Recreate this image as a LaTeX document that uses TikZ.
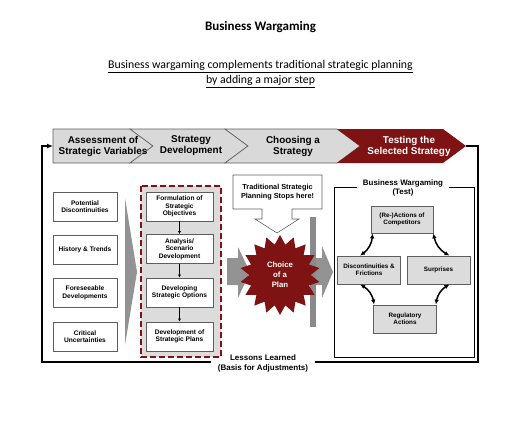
\documentclass[tikz,border=0pt]{standalone}
\usepackage{fontspec}
\setmainfont{Carlito}
\newfontfamily\arialfont{Liberation Sans}
\usetikzlibrary{arrows.meta,shapes.geometric}

\definecolor{chevgray}{HTML}{D9D9D9}
\definecolor{wgred}{HTML}{7F1313}
\definecolor{edgegray}{HTML}{5E5E5E}
\definecolor{boxgray}{HTML}{DCDCDC}
\definecolor{arrowgray}{HTML}{939393}
\definecolor{bargray}{HTML}{8A8A8A}

\tikzset{
  chevtext/.style={align=center, font={\arialfont\bfseries\fontsize{9.9}{11}\selectfont}},
  smallbox/.style={draw=edgegray, line width=0.8pt, fill=white, minimum width=64pt, minimum height=29pt,
    inner sep=1pt, align=center, font={\arialfont\bfseries\fontsize{6.6}{7.6}\selectfont}},
  stepbox/.style={smallbox, minimum width=67pt},
  testbox/.style={smallbox, fill=boxgray, minimum width=63pt, minimum height=28pt, font={\arialfont\bfseries\fontsize{6.3}{7.4}\selectfont}},
  loopline/.style={line width=1.6pt, black},
  cycarrow/.style={line width=1.5pt, {Latex[length=5pt,width=4.5pt]}-{Latex[length=5pt,width=4.5pt]}},
}

\begin{document}
\begin{tikzpicture}[x=1pt,y=-1pt]
\useasboundingbox (0,0) rectangle (521,420);

\node[font={\bfseries\fontsize{13}{15}\selectfont}] (title) at (260.5,27) {Business Wargaming};
\node[align=center, font={\fontsize{11.8}{15.5}\selectfont}] (subtitle) at (260.5,74)
  {\underline{Business wargaming complements traditional strategic planning}\\\underline{by adding a major step}};

% process chevrons
\filldraw[fill=chevgray, draw=edgegray, line width=0.6pt] (53,129) -- (130,129) -- (153,146) -- (130,163) -- (53,163) -- cycle;
\foreach \a/\b/\c in {130/225/chevgray, 225/337/chevgray}
  \filldraw[fill=\c, draw=edgegray, line width=0.6pt] (\a,129) -- (\b,129) -- (\b+23,146) -- (\b,163) -- (\a,163) -- (\a+23,146) -- cycle;
\fill[wgred] (337,129) -- (443,129) -- (466,146) -- (443,163) -- (337,163) -- (360,146) -- cycle;
\foreach \x/\n/\t in {103/assess/Assessment of\\Strategic Variables, 191/develop/Strategy\\Development, 293/choose/Choosing a\\Strategy}
  \node[chevtext] (\n) at (\x,146) {\t};
\node[chevtext, text=white] (testing) at (409,146) {Testing the\\Selected Strategy};
\coordinate (redtip) at (466,146);
\coordinate (feedin) at (53,146);

% feedback loop
\draw[loopline, -{Latex[length=6pt,width=5pt]}] (redtip) -- (478,146) -- (478,362) -- (42,362) -- (42,146) -- (feedin);
\node[fill=white, align=center, minimum width=104pt, inner sep=2pt, font={\arialfont\bfseries\fontsize{8}{10}\selectfont}] (lessons) at (263,363)
  {Lessons Learned\\(Basis for Adjustments)};

% strategic variables
\foreach \y/\n/\t in {206.5/potential/Potential\\Discontinuities, 249.5/history/History \& Trends, 292.5/foresee/Foreseeable\\Developments, 336.5/critical/Critical\\Uncertainties}
  \node[smallbox] (\n) at (85,\y) {\t};
\fill[arrowgray] (125,198) -- (137,272) -- (125,345) -- cycle;

% strategy development
\filldraw[fill=boxgray, draw=wgred, line width=1.5pt, dash pattern=on 6pt off 3pt] (141,186) rectangle (221,357);
\foreach \y/\n/\t in {206.5/objectives/Formulation of\\Strategic\\Objectives, 249/scenario/{Analysis/\\Scenario\\Development}, 292.5/options/Developing\\Strategic Options, 336.5/plans/Development of\\Strategic Plans}
  \node[stepbox] (\n) at (179.5,\y) {\t};
\foreach \s/\t in {objectives/scenario, scenario/options, options/plans}
  \draw[-{Latex[length=3pt,width=3pt]}, line width=0.6pt] (\s) -- (\t);

% choice of a plan
\fill[arrowgray] (227,258) -- (238,258) -- (238,247) -- (250,272) -- (238,298) -- (238,285) -- (227,285) -- cycle;
\fill[arrowgray] (298,258) -- (322,258) -- (322,246) -- (333,272) -- (322,298) -- (322,285) -- (298,285) -- cycle;
\fill[bargray] (310,217) rectangle (316,327);
\filldraw[fill=white, draw=edgegray, line width=0.6pt] (233,175) -- (322,175) -- (322,209) -- (292,209) -- (292,219) -- (299,219)
  -- (277,233) -- (255,219) -- (262,219) -- (262,209) -- (233,209) -- cycle;
\node[align=center, font={\arialfont\bfseries\fontsize{7.3}{9}\selectfont}] (stops) at (277.5,192) {Traditional Strategic\\Planning Stops here!};
\node[star, star points=18, star point ratio=1.3, fill=wgred, minimum size=80pt, inner sep=0pt, text=white, align=center,
  font={\arialfont\bfseries\fontsize{7.8}{9.8}\selectfont}] (choice) at (280,275) {Choice\\of a\\Plan};

% business wargaming test
\draw[line width=1pt] (334,187) rectangle (474,357);
\node[fill=white, align=center, minimum width=92pt, inner sep=2pt, font={\arialfont\bfseries\fontsize{7.9}{9.5}\selectfont}] (wgtitle) at (403,188)
  {Business Wargaming\\(Test)};
\node[testbox, minimum width=62pt, minimum height=27pt] (competitors) at (402,219.5) {(Re-)Actions of\\Competitors};
\node[testbox] (frictions) at (369,270) {Discontinuities \&\\Frictions};
\node[testbox] (surprises) at (438.5,270) {Surprises};
\node[testbox] (regulatory) at (405,319) {Regulatory\\Actions};
\draw[cycarrow] ([xshift=2pt]competitors.south west) to[bend left=25] ([xshift=-9pt]frictions.north);
\draw[cycarrow] (competitors.south east) to[bend right=25] ([xshift=11pt]surprises.north);
\draw[cycarrow] ([xshift=11pt]surprises.south) to[bend right=25] ([xshift=-1pt]regulatory.north east);
\draw[cycarrow] ([xshift=-9pt]frictions.south) to[bend left=25] ([xshift=1pt]regulatory.north west);

\end{tikzpicture}
\end{document}
